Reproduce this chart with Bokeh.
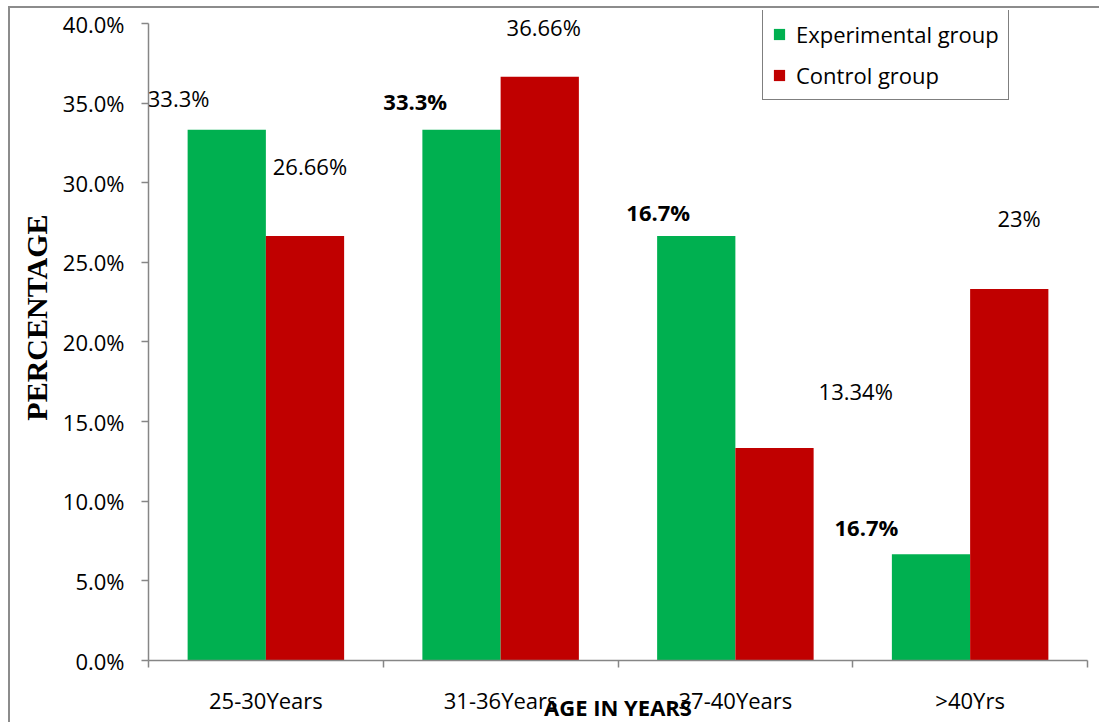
from bokeh.embed import file_html
from bokeh.models import (ColumnDataSource, FixedTicker, Legend, LegendItem,
                          PrintfTickFormatter, Range1d, Title)
from bokeh.plotting import figure
from bokeh.resources import INLINE
from bokeh.core.properties import value

# ---- data -------------------------------------------------------------
age_groups = ["25-30Years", "31-36Years", "37-40Years", ">40Yrs"]
experimental = [33.33, 33.33, 26.66, 6.67]
control = [26.66, 36.66, 13.34, 23.33]
experimental_labels = ["33.3%", "33.3%", "16.7%", "16.7%"]
control_labels = ["26.66%", "36.66%", "13.34%", "23%"]
y_ticks = [0, 5, 10, 15, 20, 25, 30, 35, 40]

# ---- styling / layout --------------------------------------------------
GREEN = "#00B050"
RED = "#C00000"
AXIS_GREY = "#868686"
FRAME_GREY = "#8c8c8c"
FONT = "Open Sans"
FS = "22px"
BORDER = 2

# page: chart box outline sits at x=9, y=7; the canvas starts just inside it
OX, OY = 10, 8
W, H = 1099 - OX, 722 - OY                  # canvas size
PLOT_L, PLOT_R, PLOT_T, PLOT_B = 148, 1085, 10, 662   # page coordinates
AXIS_TOP = 23                                          # page y of 40 %
PX_PER_UNIT = (PLOT_B - AXIS_TOP) / 40.0
Y_END = 40 + (AXIS_TOP - PLOT_T) / PX_PER_UNIT

bar_w = 1 / 3
exp_x = [i + 1 / 3 for i in range(len(age_groups))]
ctl_x = [i + 2 / 3 for i in range(len(age_groups))]

# label placement offsets (data units) from each bar's centre / top
exp_dx = [-0.205, -0.197, -0.162, -0.275]
exp_dy = [1.98, 1.79, 1.53, 1.72]
exp_bold = ["normal", "bold", "bold", "bold"]
ctl_dx = [0.021, 0.017, 0.346, 0.042]
ctl_dy = [4.39, 3.09, 3.58, 4.46]

p = figure(
    width=W + BORDER, height=H + BORDER,
    x_range=Range1d(0, len(age_groups)), y_range=Range1d(0, Y_END),
    output_backend="svg", toolbar_location=None,
    min_border_left=PLOT_L - OX, min_border_right=W - (PLOT_R - OX),
    min_border_top=PLOT_T - OY, min_border_bottom=H - (PLOT_B - OY),
)
p.styles = {
    "margin-left": f"{OX - BORDER}px", "margin-top": f"{OY - BORDER}px",
    "border-left": f"{BORDER}px solid {FRAME_GREY}",
    "border-top": f"{BORDER}px solid {FRAME_GREY}",
}
p.background_fill_color = "white"
p.border_fill_color = "white"
p.outline_line_color = None
p.xgrid.visible = False
p.ygrid.visible = False

src_e = ColumnDataSource(dict(x=exp_x, top=experimental))
src_c = ColumnDataSource(dict(x=ctl_x, top=control))
r_e = p.vbar(x="x", top="top", width=bar_w, bottom=0, source=src_e,
             fill_color=GREEN, line_color=None)
r_c = p.vbar(x="x", top="top", width=bar_w, bottom=0, source=src_c,
             fill_color=RED, line_color=None)

# value labels
lab_e = ColumnDataSource(dict(
    x=[x + d for x, d in zip(exp_x, exp_dx)],
    y=[v + d for v, d in zip(experimental, exp_dy)],
    text=experimental_labels, style=exp_bold))
lab_c = ColumnDataSource(dict(
    x=[x + d for x, d in zip(ctl_x, ctl_dx)],
    y=[v + d for v, d in zip(control, ctl_dy)],
    text=control_labels))
p.text(x="x", y="y", text="text", source=lab_e, text_font=value(FONT),
       text_font_size=FS, text_font_style="style", text_color="black",
       text_align="center", text_baseline="middle")
p.text(x="x", y="y", text="text", source=lab_c, text_font=value(FONT),
       text_font_size=FS, text_color="black",
       text_align="center", text_baseline="middle")

# y axis
ya = p.yaxis[0]
ya.bounds = (0, 40)
ya.ticker = FixedTicker(ticks=y_ticks, minor_ticks=[])
ya.formatter = PrintfTickFormatter(format="%.1f%%")
ya.axis_line_color = AXIS_GREY
ya.axis_line_width = 1.5
ya.major_tick_line_color = AXIS_GREY
ya.major_tick_line_width = 1.5
ya.major_tick_out = 7
ya.major_tick_in = 0
ya.minor_tick_line_color = None
ya.major_label_standoff = 17
ya.major_label_text_font = FONT
ya.major_label_text_font_size = FS
ya.major_label_text_color = "black"

# x axis: boundary ticks as minor ticks, category names at the centres
xa = p.xaxis[0]
centres = [i + 0.5 for i in range(len(age_groups))]
xa.ticker = FixedTicker(ticks=centres,
                        minor_ticks=list(range(len(age_groups) + 1)))
xa.major_label_overrides = {c: n for c, n in zip(centres, age_groups)}
xa.axis_line_color = AXIS_GREY
xa.axis_line_width = 1.5
xa.major_tick_line_color = None
xa.major_tick_out = 0
xa.major_tick_in = 0
xa.minor_tick_line_color = AXIS_GREY
xa.minor_tick_line_width = 1.5
xa.minor_tick_out = 7
xa.minor_tick_in = 0
xa.major_label_standoff = 17
xa.major_label_text_font = FONT
xa.major_label_text_font_size = FS
xa.major_label_text_color = "black"
xa.axis_label = "AGE IN YEARS"
xa.axis_label_text_font = FONT
xa.axis_label_text_font_style = "bold"
xa.axis_label_text_font_size = FS
xa.axis_label_text_color = "black"
xa.axis_label_standoff = -26

# vertical axis title, set a little above the middle of the axis
p.add_layout(Title(text="PERCENTAGE", align="right", offset=204, standoff=13,
                   text_font="Liberation Serif", text_font_style="bold",
                   text_font_size="30px", text_color="black"), "left")

# legend
legend = Legend(
    items=[LegendItem(label="Experimental group", renderers=[r_e]),
           LegendItem(label="Control group", renderers=[r_c])],
    location=(614, 560), orientation="vertical",
    glyph_width=14, glyph_height=14, label_standoff=10,
    padding=9, spacing=11, margin=0,
    label_text_font=FONT, label_text_font_size=FS, label_text_color="black",
    border_line_color="black", border_line_width=1,
    background_fill_color="white", background_fill_alpha=1,
)
p.add_layout(legend, "center")

open("out.html", "w").write(file_html(p, INLINE))
